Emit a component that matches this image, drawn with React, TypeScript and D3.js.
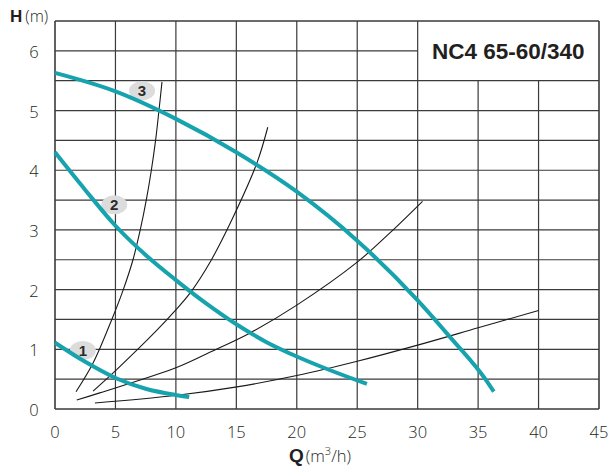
import React from "react";
import * as d3 from "d3";

const xTicks = [0, 5, 10, 15, 20, 25, 30, 35, 40, 45];
const yTicks = [0, 1, 2, 3, 4, 5, 6];
const yGrid = [0, 0.5, 1, 1.5, 2, 2.5, 3, 3.5, 4, 4.5, 5, 5.5, 6, 6.5];
const title = "NC4 65-60/340";

// pump curves [Q, H]
const pump1: [number, number][] = [[0, 1.11], [2.5, 0.79], [5, 0.52], [7.5, 0.34], [10, 0.235], [11.1, 0.2]];
const pump2: [number, number][] = [[0, 4.3], [2.5, 3.67], [5, 3.07], [7.5, 2.58], [10, 2.16], [12.5, 1.77], [15, 1.42], [17.5, 1.12], [20, 0.88], [22.5, 0.67], [25.8, 0.42]];
const pump3: [number, number][] = [[0, 5.63], [5, 5.32], [10, 4.86], [15, 4.3], [20, 3.64], [25, 2.82], [30, 1.82], [32.7, 1.2], [35.6, 0.5], [36.3, 0.29]];
const pumpCurves = [pump1, pump2, pump3];

// system curves [Q, H]
const sysA: [number, number][] = [[1.74, 0.29], [3.15, 0.77], [4.7, 1.5], [5.65, 2.0], [6.45, 2.5], [7.05, 3.0], [7.55, 3.5], [7.97, 4.0], [8.32, 4.5], [8.6, 5.0], [8.85, 5.48]];
const sysB: [number, number][] = [[3.15, 0.3], [5.1, 0.66], [8.43, 1.32], [9.9, 1.64], [11.2, 1.95], [12.8, 2.45], [14.7, 3.2], [16.7, 4.12], [17.6, 4.72]];
const sysC: [number, number][] = [[1.8, 0.15], [3.7, 0.27], [10.1, 0.7], [12.8, 0.95], [16.1, 1.27], [20, 1.74], [25, 2.46], [27.7, 2.95], [30.4, 3.48]];
const sysD: [number, number][] = [[3.3, 0.1], [10.1, 0.23], [15.05, 0.37], [20, 0.56], [25, 0.8], [30, 1.07], [35, 1.36], [40, 1.65]];
const systemCurves = [sysA, sysB, sysC, sysD];

const curveLabels = ["1", "2", "3"];
const labelPos: [number, number][] = [[2.3, 0.98], [4.9, 3.42], [7.2, 5.33]];

const W = 610;
const H = 466;

export default function App() {
  const x = d3.scaleLinear().domain([0, 45]).range([55, 599]);
  const y = d3.scaleLinear().domain([0, 6.5]).range([409, 21]);
  const pumpLine = d3
    .line<[number, number]>()
    .x((d) => x(d[0]))
    .y((d) => y(d[1]))
    .curve(d3.curveMonotoneX);
  const sysLine = d3
    .line<[number, number]>()
    .x((d) => x(d[0]))
    .y((d) => y(d[1]))
    .curve(d3.curveCatmullRom.alpha(0.5));

  const boxLeft = x(30);
  const boxBottom = y(5.5);
  const grid = "#3a3a3a";
  const teal = "#17a3ad";
  const numFont = "'Open Sans', 'DejaVu Sans', sans-serif";

  return (
    <svg width={W} height={H} style={{ position: "absolute", left: 0, top: 0, background: "#fff" }}>
      {/* horizontal grid */}
      {yGrid.map((v) => {
        const inBox = v > 5.5;
        return (
          <line
            key={"h" + v}
            x1={x(0)}
            x2={inBox && v < 6.5 ? boxLeft : x(45)}
            y1={y(v)}
            y2={y(v)}
            stroke={grid}
            strokeWidth={v === 0 || v === 6.5 ? 1.6 : 1.2}
          />
        );
      })}
      {/* vertical grid */}
      {xTicks.map((v) => (
        <line
          key={"v" + v}
          x1={x(v)}
          x2={x(v)}
          y1={y(0)}
          y2={v > 30 && v < 45 ? boxBottom : y(6.5)}
          stroke={grid}
          strokeWidth={v === 0 || v === 45 ? 1.6 : 1.2}
        />
      ))}
      {/* system curves */}
      {systemCurves.map((c, i) => (
        <path key={"s" + i} d={sysLine(c) || ""} fill="none" stroke="#1a1a1a" strokeWidth={1.1} />
      ))}
      {/* label bubbles */}
      {labelPos.map((p, i) => (
        <g key={"l" + i}>
          <ellipse cx={x(p[0])} cy={y(p[1])} rx={13} ry={9.5} fill="#dcdcdc" />
          <text
            x={x(p[0])}
            y={y(p[1]) + 5.5}
            textAnchor="middle"
            fontFamily="'Liberation Sans', Arial, sans-serif"
            fontWeight="bold"
            fontSize={15}
            fill="#2a2a2a"
          >
            {curveLabels[i]}
          </text>
        </g>
      ))}
      {/* pump curves */}
      {pumpCurves.map((c, i) => (
        <path key={"p" + i} d={pumpLine(c) || ""} fill="none" stroke={teal} strokeWidth={4} />
      ))}
      {/* title */}
      <text
        x={(boxLeft + x(45)) / 2}
        y={59}
        textAnchor="middle"
        fontFamily="'Liberation Sans', Arial, sans-serif"
        fontWeight="bold"
        fontSize={22.5}
        fill="#231f20"
      >
        {title}
      </text>
      {/* y ticks */}
      {yTicks.map((v) => (
        <text key={"yt" + v} x={34} y={y(v) + 7} textAnchor="middle" fontFamily={numFont} fontWeight={300} fontSize={16.5} fill="#231f20">
          {v}
        </text>
      ))}
      {/* x ticks */}
      {xTicks.map((v) => (
        <text key={"xt" + v} x={x(v)} y={438} textAnchor="middle" fontFamily={numFont} fontWeight={300} fontSize={16.5} fill="#231f20">
          {v}
        </text>
      ))}
      {/* axis titles */}
      <text x={10} y={22} fontFamily={numFont} fontSize={16} fill="#231f20">
        <tspan fontFamily="'Liberation Sans', Arial, sans-serif" fontWeight="bold" fontSize={17}>H</tspan>
        <tspan dx={3} fontWeight={300}>(m)</tspan>
      </text>
      <text x={289} y={462} fontFamily={numFont} fontSize={16.5} fill="#231f20">
        <tspan fontFamily="'Liberation Sans', Arial, sans-serif" fontWeight="bold" fontSize={19}>Q</tspan>
        <tspan dx={2} fontWeight={300}>(m</tspan>
        <tspan fontSize={11} dy={-7} fontWeight={300}>3</tspan>
        <tspan dy={7} fontWeight={300}>/h)</tspan>
      </text>
    </svg>
  );
}
